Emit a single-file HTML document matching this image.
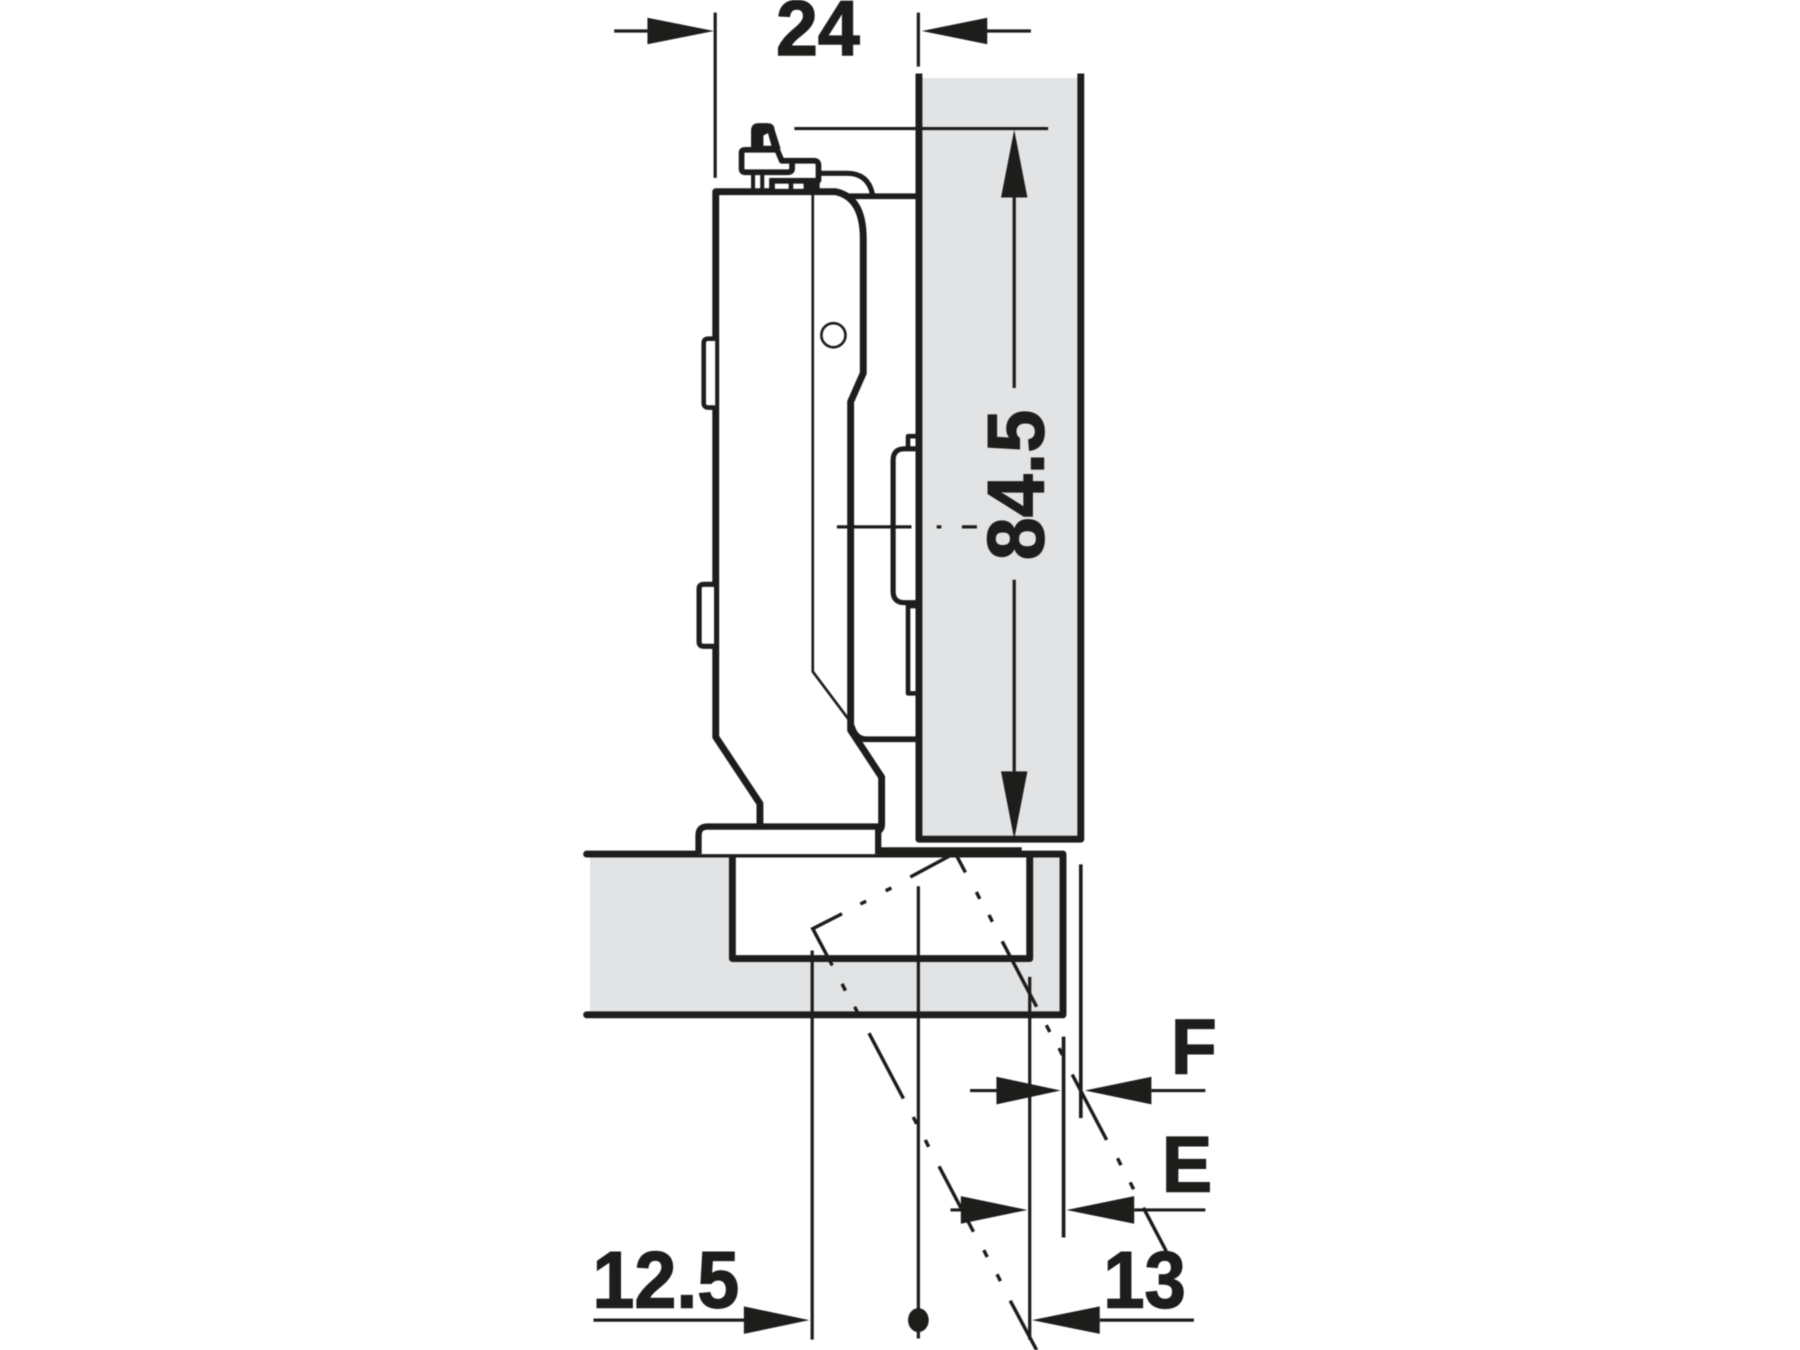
<!DOCTYPE html>
<html><head><meta charset="utf-8"><style>
html,body{margin:0;padding:0;background:#fff}
svg{display:block;filter:blur(0.45px)}
text{font-family:"Liberation Sans",sans-serif;font-weight:700;fill:#1d1d1b;stroke:#1d1d1b;stroke-width:1.200;text-rendering:geometricPrecision}
</style></head><body>
<svg xmlns="http://www.w3.org/2000/svg" width="1800" height="1350" viewBox="0 0 1568 1176">
<rect width="1568" height="1176" fill="#fff"/>
<!-- door panel -->
<rect x="800" y="68" width="142" height="663" fill="#e1e3e5"/>
<!-- cabinet side -->
<rect x="514" y="744" width="412" height="139" fill="#e1e3e5"/>
<rect x="638" y="744" width="259" height="91" fill="#fff"/>

<g fill="none" stroke="#1d1d1b" stroke-width="6" stroke-linejoin="round" stroke-linecap="butt">
  <!-- door -->
  <path d="M800.500,64V731H941.500V64" stroke-width="6"/>
  <!-- cabinet -->
  <path d="M511,744H926V884H511" stroke-linecap="round" stroke-width="6"/>
  <path d="M767,742.500H890" stroke-width="9"/>
  <path d="M638,744V835H897V742" stroke-width="6"/>

  <!-- mounting plate rear parts -->
  <path d="M735,171H800" stroke-width="5"/>
  <path d="M714,151H738Q756,151 760,169" stroke-width="4.500"/>
  <path d="M742,632Q745,644 755,644H800" stroke-width="5"/>
  <path d="M800,391H788Q778,391 778,401V515Q778,525 788,525H800" stroke-width="4.500"/>
  <path d="M799,380H791V391" stroke-width="4"/>
  <path d="M799,528H791V604H799" stroke-width="4"/>

  <!-- hinge arm -->
  <path d="M662,720V700L623.500,642V167H728Q752,172 752,208V325L741,350V636L768,677V718Q768,722 765,724" fill="#fff" stroke-width="6"/>
  <path d="M608.500,744V728Q608.500,720 616,720H765V744" fill="#fff" stroke-width="5.500"/>

  <!-- side tabs -->
  <path d="M623,295H617Q613,295 613,299V351Q613,355 617,355H623" stroke-width="4" fill="#fff"/>
  <path d="M622,509H613Q609,509 609,513V559Q609,563 613,563H622" stroke-width="4.500" fill="#fff"/>

  <!-- adjuster -->
  <path d="M656,128V114Q656,109 661,109H668Q673,109 673,113L678,129H656Z" fill="#1d1d1b" stroke-width="3.500"/>
  <path d="M649,130.500H677L681,140H690V147Q690,150 686,150H649Q646,150 646,147V133Q646,130.500 649,130.500Z" fill="#fff" stroke-width="5"/>
  <path d="M690,140H709Q713,140 713,144V157L710,158H672" stroke-width="5"/>
  <path d="M656,150V166M664,150V166" stroke-width="3.500"/>
  <path d="M708,167V585L741,629" stroke-width="2.300"/>
</g>
<path d="M665,127V118L669,116L672,127Z" fill="#fff"/>
<rect x="670" y="155" width="44" height="10" fill="#1d1d1b"/>
<rect x="675" y="160" width="12" height="4.500" fill="#fff"/>
<rect x="691" y="160" width="9" height="4.500" fill="#fff"/>

<!-- pivot circle -->
<circle cx="726" cy="292" r="10.500" fill="#fff" stroke="#1d1d1b" stroke-width="2.300"/>

<!-- thin lines -->
<g fill="none" stroke="#1d1d1b" stroke-width="2.800">
  <path d="M623,11V155M800,11V58"/>
  <path d="M692,112H913"/>
  <path d="M883.500,172V338M883.500,505V672"/>
  <path d="M729,459H794M816,459H820M838,459H851"/>
  <path d="M707.500,828V1167"/>
  <path d="M800,772V1166"/>
  <path d="M897,851V1167"/>
  <path d="M941.500,753V974" stroke-width="3.200"/>
  <path d="M926.500,903V1078" stroke-width="3.200"/>
  <!-- dimension shafts -->
  <path d="M535,27H570M898,27H855"/>
  <path d="M845,950H870M1003,950H1050"/>
  <path d="M828,1054H840M988,1054H1050"/>
  <path d="M517,1150H652M958,1150H1040"/>
</g>

<!-- phantom door -->
<g fill="none" stroke="#1d1d1b" stroke-width="3">
  <path d="M733.500,796L708,809L725,841"/>
  <path d="M749.500,787.500L754.500,785M771.500,776L776.500,773.500"/>
  <path d="M793,764L832,743L841,760"/>
  <path d="M850.500,777L853.500,783M861.500,797L864.500,803"/>
  <path d="M873,820L903,877"/>
  <path d="M911.500,893L914.500,899M922.500,913L925.500,919"/>
  <path d="M934,936L964,993"/>
  <path d="M973.500,1009L976.500,1015M984.500,1030L987.500,1036"/>
  <path d="M996,1052L1016,1090"/>
  <path d="M733.500,857L736.500,863M744.500,877L747.500,883"/>
  <path d="M757,900L787,957"/>
  <path d="M795.500,973L798.500,979M806,993L809,999"/>
  <path d="M818,1016L848,1073"/>
  <path d="M857,1089L860,1095M868.500,1110L871.500,1116"/>
  <path d="M880,1133L903,1176"/>
</g>

<!-- arrowheads -->
<g fill="#1d1d1b">
  <path d="M622,27L564,15.500V38.500Z"/>
  <path d="M803,27L860,15.500V38.500Z"/>
  <path d="M883.500,113L872,172H895Z"/>
  <path d="M883.500,731L872,672H895Z"/>
  <path d="M924,950L868,938V962Z"/>
  <path d="M945,950L1003,938V962Z"/>
  <path d="M895,1054L837,1042V1066Z"/>
  <path d="M929,1054L988,1042V1066Z"/>
  <path d="M705,1150L648,1138V1162Z"/>
  <path d="M899,1150L958,1138V1162Z"/>
  <ellipse cx="800" cy="1150" rx="9" ry="10.500"/>
</g>

<!-- labels -->
<text x="676" y="48" font-size="68" textLength="73" lengthAdjust="spacingAndGlyphs">24</text>
<text transform="translate(909,488) rotate(-90)" font-size="70" textLength="131" lengthAdjust="spacingAndGlyphs">84.5</text>
<text x="1020" y="935" font-size="68" textLength="40" lengthAdjust="spacingAndGlyphs">F</text>
<text x="1012" y="1038" font-size="69" textLength="44" lengthAdjust="spacingAndGlyphs">E</text>
<text x="516" y="1139" font-size="70" textLength="128" lengthAdjust="spacingAndGlyphs">12.5</text>
<text x="961" y="1139" font-size="70" textLength="72" lengthAdjust="spacingAndGlyphs">13</text>
</svg>
</body></html>
